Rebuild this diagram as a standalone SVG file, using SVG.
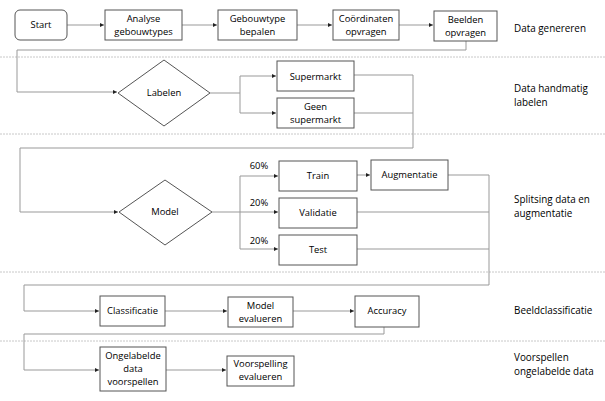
<svg xmlns="http://www.w3.org/2000/svg" width="605" height="401" viewBox="0 0 605 401">
<style>
.box{fill:#fff;stroke:#555;stroke-width:1}
.c{fill:none;stroke:#999;stroke-width:1}
.sep{stroke:#c8c8c8;stroke-width:1;stroke-dasharray:2 1}
text{font-family:"Open Sans","Noto Sans",sans-serif;font-size:9.4px;fill:#000;text-anchor:middle}
.lab{text-anchor:start;font-size:9.9px}
</style>
<defs>
<marker id="a" markerWidth="5" markerHeight="5" refX="4" refY="2" orient="auto" markerUnits="userSpaceOnUse">
<path d="M0,0 L4,2 L0,4 z" fill="#222"/>
</marker>
</defs>
<rect width="605" height="401" fill="#fff"/>
<g id="separators">
<line class="sep" x1="0" y1="57" x2="605" y2="57"/>
<line class="sep" x1="0" y1="134" x2="605" y2="134"/>
<line class="sep" x1="0" y1="272" x2="605" y2="272"/>
<line class="sep" x1="0" y1="341" x2="605" y2="341"/>
</g>
<g id="connectors">
<line class="c" x1="67" y1="25" x2="104" y2="25" marker-end="url(#a)"/>
<line class="c" x1="182" y1="25" x2="217" y2="25" marker-end="url(#a)"/>
<line class="c" x1="297" y1="25" x2="332" y2="25" marker-end="url(#a)"/>
<line class="c" x1="399" y1="25" x2="433" y2="25" marker-end="url(#a)"/>
<polyline class="c" points="466,41 466,50 17,50 17,92 117,92" marker-end="url(#a)"/>
<polyline class="c" points="210,93 240,93 240,76 276,76" marker-end="url(#a)"/>
<polyline class="c" points="240,93 240,113 276,113" marker-end="url(#a)"/>
<polyline class="c" points="354,75 413,75 413,148 20,148 20,212 118,212"  marker-end="url(#a)"/>
<line class="c" x1="354" y1="113" x2="413" y2="113"/>
<polyline class="c" points="212,212 240,212 240,176 278,176" marker-end="url(#a)"/>
<line class="c" x1="240" y1="212" x2="278" y2="212" marker-end="url(#a)"/>
<polyline class="c" points="240,212 240,249 278,249" marker-end="url(#a)"/>
<line class="c" x1="357" y1="175" x2="370" y2="175" marker-end="url(#a)"/>
<polyline class="c" points="448,175 489,175 489,285 24,285 24,311 99,311" marker-end="url(#a)"/>
<line class="c" x1="357" y1="212" x2="489" y2="212"/>
<line class="c" x1="357" y1="249" x2="489" y2="249"/>
<line class="c" x1="165" y1="311" x2="227" y2="311" marker-end="url(#a)"/>
<line class="c" x1="293" y1="311" x2="354" y2="311" marker-end="url(#a)"/>
<polyline class="c" points="384,327 384,334 24,334 24,370 99,370" marker-end="url(#a)"/>
<line class="c" x1="166" y1="370" x2="226" y2="370" marker-end="url(#a)"/>
</g>
<g id="pct">
<text x="259" y="169">60%</text>
<text x="259" y="206">20%</text>
<text x="259" y="244">20%</text>
</g>
<g id="start"><rect class="box" x="15" y="10" width="52" height="30" rx="5"/><text x="41" y="28">Start</text></g>
<g id="analyse"><rect class="box" x="105" y="10" width="77" height="30"/><text x="143.5" y="22">Analyse</text><text x="143.5" y="35">gebouwtypes</text></g>
<g id="gebouwtype"><rect class="box" x="218" y="10" width="79" height="30"/><text x="257.5" y="22">Gebouwtype</text><text x="257.5" y="35">bepalen</text></g>
<g id="coordinaten"><rect class="box" x="333" y="10" width="66" height="30"/><text x="366" y="22">Coördinaten</text><text x="366" y="35">opvragen</text></g>
<g id="beelden"><rect class="box" x="434" y="11" width="63" height="30"/><text x="465.5" y="23">Beelden</text><text x="465.5" y="36">opvragen</text></g>
<g id="labelen"><polygon class="box" points="118,93 164,60 210,93 164,126"/><text x="164" y="96">Labelen</text></g>
<g id="supermarkt"><rect class="box" x="277" y="61" width="77" height="30"/><text x="315.5" y="80">Supermarkt</text></g>
<g id="geen"><rect class="box" x="277" y="98" width="77" height="30"/><text x="315.5" y="110">Geen</text><text x="315.5" y="123">supermarkt</text></g>
<g id="model"><polygon class="box" points="119,212 165,180 212,212 165,245"/><text x="165" y="215">Model</text></g>
<g id="train"><rect class="box" x="279" y="161" width="78" height="30"/><text x="318" y="179">Train</text></g>
<g id="validatie"><rect class="box" x="279" y="198" width="78" height="30"/><text x="318" y="216">Validatie</text></g>
<g id="test"><rect class="box" x="279" y="235" width="78" height="30"/><text x="318" y="253">Test</text></g>
<g id="augmentatie"><rect class="box" x="371" y="160" width="77" height="30"/><text x="409.5" y="178">Augmentatie</text></g>
<g id="classificatie"><rect class="box" x="100" y="296" width="65" height="30"/><text x="132.5" y="314">Classificatie</text></g>
<g id="modeleval"><rect class="box" x="228" y="297" width="65" height="30"/><text x="260.5" y="309">Model</text><text x="260.5" y="322">evalueren</text></g>
<g id="accuracy"><rect class="box" x="355" y="296" width="64" height="31"/><text x="387" y="314">Accuracy</text></g>
<g id="ongelabelde"><rect class="box" x="100" y="347" width="66" height="44"/><text x="133" y="359">Ongelabelde</text><text x="133" y="372">data</text><text x="133" y="385">voorspellen</text></g>
<g id="voorspelling"><rect class="box" x="227" y="356" width="67" height="30"/><text x="260.5" y="367">Voorspelling</text><text x="260.5" y="380">evalueren</text></g>
<g id="stages">
<text class="lab" x="514" y="32">Data genereren</text>
<text class="lab" x="514" y="92">Data handmatig</text>
<text class="lab" x="514" y="106">labelen</text>
<text class="lab" x="514" y="203">Splitsing data en</text>
<text class="lab" x="514" y="217">augmentatie</text>
<text class="lab" x="514" y="314">Beeldclassificatie</text>
<text class="lab" x="514" y="361">Voorspellen</text>
<text class="lab" x="514" y="375">ongelabelde data</text>
</g>
</svg>
